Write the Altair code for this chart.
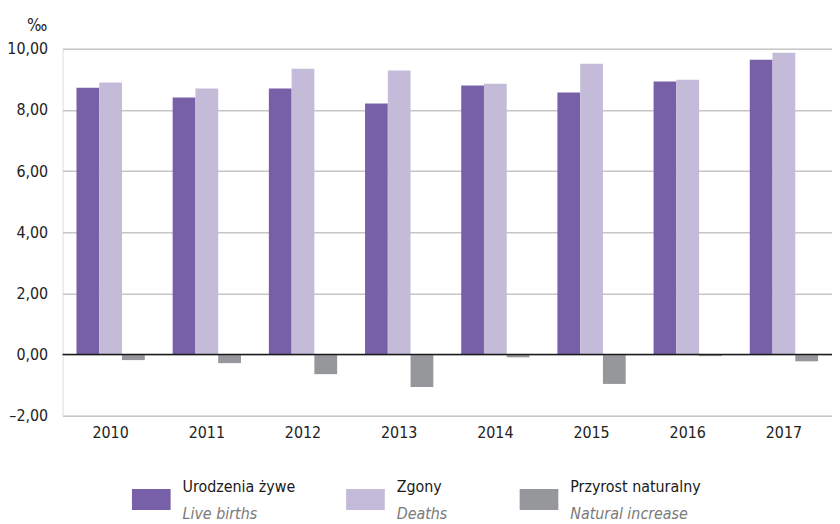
import altair as alt
import pandas as pd

years = ["2010", "2011", "2012", "2013", "2014", "2015", "2016", "2017"]
births = [8.73, 8.41, 8.70, 8.21, 8.80, 8.57, 8.93, 9.64]
deaths = [8.90, 8.70, 9.35, 9.29, 8.86, 9.51, 8.99, 9.87]
natural = [-0.18, -0.28, -0.64, -1.06, -0.09, -0.96, -0.05, -0.22]

series_pl = ["Urodzenia żywe", "Zgony", "Przyrost naturalny"]
series_en = ["Live births", "Deaths", "Natural increase"]
colors = ["#7860a8", "#c4bbd9", "#96979b"]
y_ticks = [-2, 0, 2, 4, 6, 8, 10]

rows = []
for i, y in enumerate(years):
    for s, vals in zip(series_pl, [births, deaths, natural]):
        rows.append({"year": y, "series": s, "value": vals[i]})
df = pd.DataFrame(rows)

FONT = "Liberation Sans Narrow, DejaVu Sans Condensed, Roboto, sans-serif"

bars = alt.Chart(df).mark_bar().encode(
    x=alt.X("year:N", sort=years,
            scale=alt.Scale(paddingInner=0.29, paddingOuter=0.145),
            axis=alt.Axis(title=None, labelAngle=0, labelFontSize=16, labelColor="#222",
                          labelFont=FONT, labelPadding=9, ticks=False, domain=False, grid=False)),
    xOffset=alt.XOffset("series:N", sort=series_pl,
                        scale=alt.Scale(paddingInner=0, paddingOuter=0)),
    y=alt.Y("value:Q", scale=alt.Scale(domain=[-2, 10], nice=False),
            axis=alt.Axis(values=y_ticks, title="‰", titleAngle=0, titleAlign="center",
                          titleX=-26, titleY=-14, titleBaseline="bottom", titleFontSize=17,
                          titleFontWeight="normal", titleFont=FONT, titleColor="#222",
                          labelExpr="(datum.value < 0 ? '–' : '') + replace(format(abs(datum.value), '.2f'), '.', ',')",
                          labelFontSize=16, labelFont=FONT, labelColor="#222", labelPadding=15,
                          ticks=False, domain=False, grid=True, gridColor="#c6c6c6",
                          gridWidth=1.5)),
    color=alt.Color("series:N", sort=series_pl,
                    scale=alt.Scale(domain=series_pl, range=colors), legend=None),
)

zero = alt.Chart(pd.DataFrame({"z": [0]})).mark_rule(color="#1a1a1a", strokeWidth=1.5).encode(
    y=alt.Y("z:Q")
)

layers = [bars, zero]

leg_x = [70, 286, 461]
for i in range(3):
    item = pd.DataFrame({"pl": [series_pl[i]], "en": [series_en[i]]})
    sw = alt.Chart(item).mark_rect(color=colors[i]).encode(
        x=alt.value(leg_x[i]), x2=alt.value(leg_x[i] + 39),
        y=alt.value(444), y2=alt.value(465))
    t1 = alt.Chart(item).mark_text(align="left", baseline="alphabetic", fontSize=16,
                                   font=FONT, color="#1a1a1a").encode(
        x=alt.value(leg_x[i] + 51), y=alt.value(447), text="pl:N")
    t2 = alt.Chart(item).mark_text(align="left", baseline="alphabetic", fontSize=16,
                                   font=FONT, fontStyle="italic", color="#7a7a7a").encode(
        x=alt.value(leg_x[i] + 51), y=alt.value(474), text="en:N")
    layers += [sw, t1, t2]

chart = alt.layer(*layers).properties(
    width=776, height=370,
    padding={"left": 55, "top": 39, "right": 0, "bottom": 107},
    autosize=alt.AutoSizeParams(type="none"),
).configure_view(stroke=None).configure(font=FONT)

chart.save("out.html", embed_options={"renderer": "svg", "actions": False})
